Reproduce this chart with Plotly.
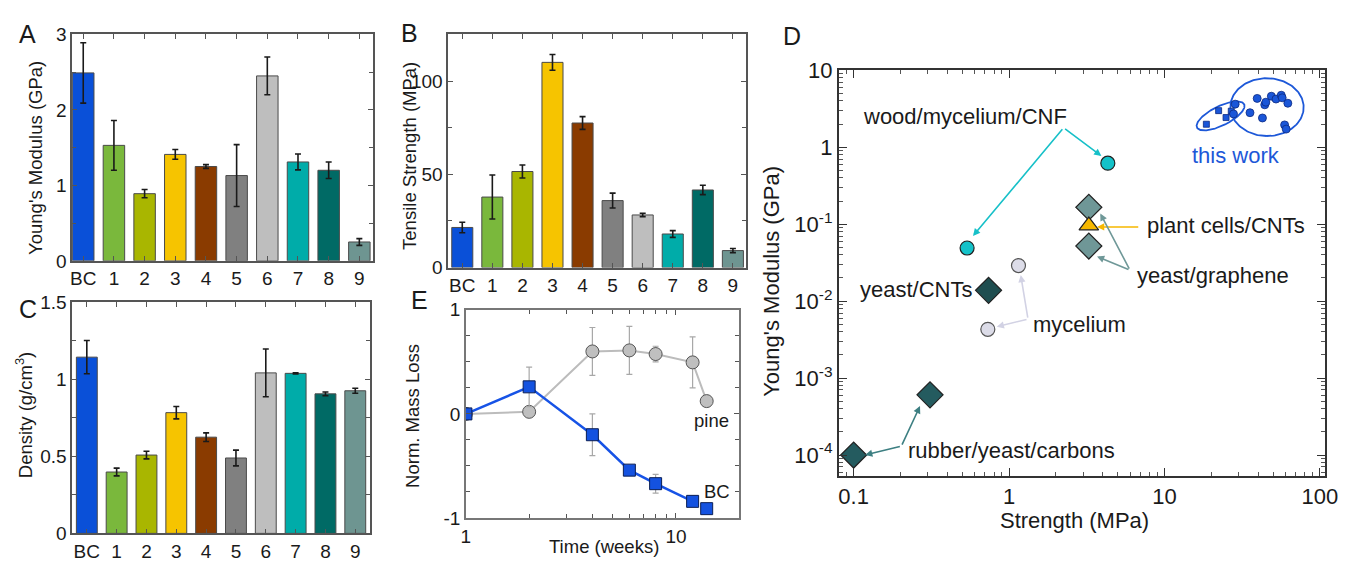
import numpy as np
import plotly.graph_objects as go

W, H = 1355, 569
OFF = 8  # page offset of the plot div inside the browser page
FONT = "Liberation Sans, Arial, sans-serif"
LETTER_FONT = "Liberation Sans, Arial, sans-serif"
TXT = "#1a1a1a"

# ---------------- data: panels A, B, C ----------------
categories = ["BC", "1", "2", "3", "4", "5", "6", "7", "8", "9"]
bar_colors = ["#0a50d8", "#7ab83c", "#a9b600", "#f6c400", "#8a3b00",
              "#808080", "#bebebe", "#00aca9", "#006a65", "#6e9591"]
modulus = [2.49, 1.53, 0.89, 1.41, 1.25, 1.13, 2.45, 1.31, 1.20, 0.25]
modulus_err = [0.40, 0.33, 0.055, 0.065, 0.025, 0.41, 0.25, 0.105, 0.11, 0.045]
strength = [21.5, 37.8, 51.5, 110.0, 77.5, 35.9, 28.2, 18.0, 41.6, 9.1]
strength_err = [2.8, 11.8, 3.5, 4.2, 3.4, 4.0, 0.9, 1.8, 2.5, 1.1]
density = [1.143, 0.398, 0.508, 0.783, 0.624, 0.489, 1.041, 1.038, 0.905, 0.925]
density_err = [0.108, 0.025, 0.025, 0.04, 0.028, 0.051, 0.155, 0.004, 0.012, 0.016]

# ---------------- data: panel E ----------------
time_pine = [1, 2, 4, 6, 8, 12, 14]
loss_pine = [0.0, 0.02, 0.60, 0.61, 0.575, 0.495, 0.123]
loss_pine_err = [0, 0, 0.23, 0.23, 0.075, 0.245, 0]
time_bc = [1, 2, 4, 6, 8, 12]
loss_bc = [0.0, 0.26, -0.20, -0.54, -0.67, -0.84]
loss_bc_err = [0, 0.19, 0.20, 0.04, 0.09, 0.02]
time_bc_last = [14]
loss_bc_last = [-0.91]

# ---------------- data: panel D ----------------
wood_strength = [0.537, 4.32]
wood_modulus = [0.049, 0.62]
graphene_strength = [3.26, 3.26]
graphene_modulus = [0.166, 0.052]
plant_strength = [3.26]
plant_modulus = [0.096]
yeastcnt_strength = [0.738]
yeastcnt_modulus = [0.0138]
mycelium_strength = [1.15, 0.73]
mycelium_modulus = [0.029, 0.0043]
rubber_strength = [0.1, 0.31]
rubber_modulus = [1e-4, 6.05e-4]
this_sq_strength = [18.6, 22.3, 24.9, 26.9]
this_sq_modulus = [1.99, 2.99, 2.43, 2.94]
this_ci_strength = [28.5, 27.8, 35.5, 39.5, 42.7, 44.2, 44.9, 48.7, 52.2, 56.4, 57.2, 62.2, 59.3, 60.7]
this_ci_modulus = [3.63, 2.71, 2.81, 4.31, 2.40, 3.56, 3.85, 4.60, 4.23, 4.74, 4.39, 3.73, 1.95, 1.72]

fig = go.Figure()


def px_x(p):
    return (p - OFF) / W


def px_y(p):
    return 1 - (p - OFF) / H


# ---------------- bars ----------------
def add_bars(vals, errs, xa, ya):
    fig.add_trace(go.Bar(
        x=categories, y=vals, xaxis=xa, yaxis=ya, width=0.7,
        marker=dict(color=bar_colors, line=dict(color="#4a4a4a", width=1)),
        error_y=dict(type="data", array=errs, color="#1a1a1a", thickness=1.6, width=3),
        showlegend=False))


add_bars(modulus, modulus_err, "x", "y")
add_bars(strength, strength_err, "x2", "y2")
add_bars(density, density_err, "x3", "y3")

# ---------------- panel E ----------------
fig.add_trace(go.Scatter(
    x=time_pine, y=loss_pine, xaxis="x4", yaxis="y4", mode="lines+markers",
    line=dict(color="#bcbcbc", width=2),
    marker=dict(symbol="circle", size=13, color="#bfbfbf", line=dict(color="#555", width=1)),
    error_y=dict(type="data", array=loss_pine_err, color="#a8a8a8", thickness=1.2, width=3),
    showlegend=False))
fig.add_trace(go.Scatter(
    x=time_bc, y=loss_bc, xaxis="x4", yaxis="y4", mode="lines+markers",
    line=dict(color="#1753e6", width=2.5),
    marker=dict(symbol="square", size=12, color="#1452e0", line=dict(color="#0b1f55", width=1)),
    error_y=dict(type="data", array=loss_bc_err, color="#a8a8a8", thickness=1.2, width=3),
    showlegend=False))
fig.add_trace(go.Scatter(
    x=time_bc_last, y=loss_bc_last, xaxis="x4", yaxis="y4", mode="markers",
    marker=dict(symbol="square", size=12, color="#1452e0", line=dict(color="#0b1f55", width=1)),
    showlegend=False))

# ---------------- panel D ----------------
DX, DY = 157.5, 80.2  # pixels per decade (for isotropic outline ellipses)


def outline(xs, ys, scale, pad_major, pad_minor):
    P = np.column_stack([np.log10(xs) * DX, np.log10(ys) * DY])
    c = P.mean(axis=0)
    vals, vecs = np.linalg.eigh(np.cov(P.T))
    r = scale * np.sqrt(vals) + np.array([pad_minor, pad_major])
    t = np.linspace(0, 2 * np.pi, 161)
    pts = c + np.column_stack([np.cos(t) * r[0], np.sin(t) * r[1]]) @ vecs.T
    return 10 ** (pts[:, 0] / DX), 10 ** (pts[:, 1] / DY)


for xs, ys, sc, pa, pb in [(this_sq_strength, this_sq_modulus, 1.8, 5, 2.5),
                           (this_ci_strength, this_ci_modulus, 1.6, 8, 12)]:
    ex, ey = outline(xs, ys, sc, pa, pb)
    fig.add_trace(go.Scatter(x=ex, y=ey, xaxis="x5", yaxis="y5", mode="lines",
                             line=dict(color="#1d58d8", width=1.8), showlegend=False,
                             hoverinfo="skip"))


def dpts(xs, ys, symbol, size, color, lc="#222", lw=1.2):
    fig.add_trace(go.Scatter(x=xs, y=ys, xaxis="x5", yaxis="y5", mode="markers",
                             marker=dict(symbol=symbol, size=size, color=color,
                                         line=dict(color=lc, width=lw)),
                             showlegend=False))


dpts(this_sq_strength, this_sq_modulus, "square", 6, "#1a56d8", "#0d2a80", 0.8)
dpts(this_ci_strength, this_ci_modulus, "circle", 8, "#1a56d8", "#0d2a80", 0.8)
dpts(wood_strength, wood_modulus, "circle", 14, "#14c2c9")
dpts(graphene_strength, graphene_modulus, "diamond", 20, "#6f9797")
dpts(plant_strength, plant_modulus, "triangle-up", 17, "#f6b800")
dpts(yeastcnt_strength, yeastcnt_modulus, "diamond", 20, "#1f4e50")
dpts(mycelium_strength, mycelium_modulus, "circle", 14, "#dcdce8", "#555")
dpts(rubber_strength, rubber_modulus, "diamond", 20, "#245b5f")

# ---------------- axes ----------------
base = dict(showline=True, linecolor="#555", linewidth=1.5, mirror="ticks",
            ticks="inside", ticklen=5, tickwidth=1.2, tickcolor="#555",
            showgrid=False, zeroline=False,
            tickfont=dict(family=FONT, size=19, color=TXT))


def minor(vals, ln=4):
    return dict(tickmode="array", tickvals=vals, ticks="inside", ticklen=ln,
                tickwidth=1, tickcolor="#555", showgrid=False)


layout_axes = dict(
    xaxis=dict(base, domain=[px_x(68), px_x(373)], anchor="y", type="category",
               range=[-0.36, 9.45]),
    yaxis=dict(base, domain=[px_y(259), px_y(23)], anchor="x", range=[0, 3],
               tickvals=[0, 1, 2, 3], minor=minor([0.5, 1.5, 2.5])),
    xaxis2=dict(base, domain=[px_x(449), px_x(751)], anchor="y2", type="category",
                range=[-0.47, 9.44]),
    yaxis2=dict(base, domain=[px_y(266), px_y(23)], anchor="x2", range=[0, 125],
                tickvals=[0, 50, 100], minor=minor([25, 75, 125])),
    xaxis3=dict(base, domain=[px_x(68), px_x(370)], anchor="y3", type="category",
                range=[-0.49, 9.5]),
    yaxis3=dict(base, domain=[px_y(543), px_y(302)], anchor="x3", range=[0, 1.5],
                tickvals=[0, 0.5, 1, 1.5], ticktext=["0", "0.5", "1", "1.5"],
                minor=minor([0.25, 0.75, 1.25])),
    xaxis4=dict(base, domain=[px_x(467), px_x(744)], anchor="y4", type="log",
                range=[0, np.log10(20)], tickvals=[1, 10], ticktext=["1", "10"],
                minor=minor([2, 3, 4, 5, 6, 7, 8, 9, 20]), linecolor="#777"),
    yaxis4=dict(base, domain=[px_y(527), px_y(310)], anchor="x4", range=[-1, 1],
                tickvals=[-1, 0, 1], ticktext=["-1", "0", "1"],
                minor=minor([-0.75, -0.5, -0.25, 0.25, 0.5, 0.75]), linecolor="#777"),
)

dmaj = [10.0 ** k for k in range(-4, 2)]
dmaj_txt = ["10<sup>-4</sup>", "10<sup>-3</sup>", "10<sup>-2</sup>", "10<sup>-1</sup>", "1", "10"]
dminor_y = [m * 10.0 ** k for k in range(-5, 1) for m in range(2, 10)]
dminor_x = [m * 10.0 ** k for k in range(-2, 2) for m in range(2, 10)]
dfont = dict(family=FONT, size=22, color=TXT)
layout_axes["xaxis5"] = dict(base, domain=[px_x(845), px_x(1338)], anchor="y5", type="log",
                             range=[-1.095, 2.035], tickvals=[0.1, 1, 10, 100],
                             ticktext=["0.1", "1", "10", "100"], linecolor="#333",
                             linewidth=2, ticklen=8, tickcolor="#333", tickfont=dfont,
                             ticklabeloverflow="allow", minor=minor(dminor_x, 4))
layout_axes["yaxis5"] = dict(base, domain=[px_y(483), px_y(60)], anchor="x5", type="log",
                             range=[-4.27, 1.005], tickvals=dmaj, ticktext=dmaj_txt,
                             linecolor="#333", linewidth=2, ticklen=8, tickcolor="#333",
                             tickfont=dfont, minor=minor(dminor_y, 4))

# ---------------- annotations ----------------
ann = []


def ptext(text, x, y, size=18.5, angle=0, font=FONT, color=TXT, xanchor="center"):
    ann.append(dict(text=text, x=px_x(x), y=px_y(y), xref="paper", yref="paper",
                    showarrow=False, textangle=angle, xanchor=xanchor, yanchor="middle",
                    font=dict(family=font, size=size, color=color)))


for letter, lx, ly in [("A", 23, 23), ("B", 410, 22), ("C", 23, 309), ("E", 420, 300), ("D", 797, 25)]:
    ptext(letter, lx, ly, size=25, font=LETTER_FONT)

ptext("Young's Modulus (GPa)", 30, 152, angle=-90)
ptext("Tensile Strength (MPa)", 410, 150, angle=-90)
ptext("Density (g/cm<sup>3</sup>)", 20, 420, angle=-90)
ptext("Norm. Mass Loss", 413, 421, angle=-90)
ptext("Time (weeks)", 607, 557)
ptext("Young's Modulus (GPa)", 776, 280, size=22, angle=-90)
ptext("Strength (MPa)", 1084, 530, size=22)

# E labels (log x in annotation coords)
ann.append(dict(text="pine", x=np.log10(14.8), y=-0.06, xref="x4", yref="y4",
                showarrow=False, font=dict(family=FONT, size=18.5, color=TXT)))
ann.append(dict(text="BC", x=np.log10(15.6), y=-0.745, xref="x4", yref="y4",
                showarrow=False, font=dict(family=FONT, size=18.5, color=TXT)))


def dtext(text, x, y, xanchor="center", color=TXT, size=22):
    ann.append(dict(text=text, x=x, y=y, xref="x5", yref="y5", showarrow=False,
                    xanchor=xanchor, yanchor="middle",
                    font=dict(family=FONT, size=size, color=color)))


def darrow(tail, head, color):
    ann.append(dict(text="", x=head[0], y=head[1], ax=tail[0], ay=tail[1],
                    xref="x5", yref="y5", axref="x5", ayref="y5", showarrow=True,
                    arrowhead=2, arrowsize=0.9, arrowwidth=1.6, arrowcolor=color,
                    standoff=0, startstandoff=0))


dtext("wood/mycelium/CNF", -0.285, 0.398)
dtext("plant cells/CNTs", 0.873, -1.02, "left")
dtext("yeast/graphene", 0.809, -1.661, "left")
dtext("yeast/CNTs", -0.225, -1.847, "right")
dtext("mycelium", 0.143, -2.304, "left")
dtext("rubber/yeast/carbons", -0.662, -3.938, "left")
dtext("this work", 1.463, -0.11, color="#1d58d8", size=22)

for head in [(0.594, -0.113), (-0.232, -1.153)]:
    darrow((0.351, 0.252), head, "#17c0c8")
darrow((0.841, -1.036), (0.566, -1.036), "#f6b800")
for head in [(0.587, -0.862), (0.566, -1.419)]:
    darrow((0.778, -1.597), head, "#6f9898")
for head in [(0.075, -1.660), (-0.079, -2.333)]:
    darrow((0.122, -2.233), head, "#d2d2e4")
for head in [(-0.926, -4.0), (-0.573, -3.364)]:
    darrow((-0.693, -3.884), head, "#3d7f82")

fig.update_layout(width=W, height=H, margin=dict(l=0, r=0, t=0, b=0),
                  paper_bgcolor="white", plot_bgcolor="white", bargap=0.3,
                  annotations=ann, **layout_axes)

fig.write_html("out.html")
